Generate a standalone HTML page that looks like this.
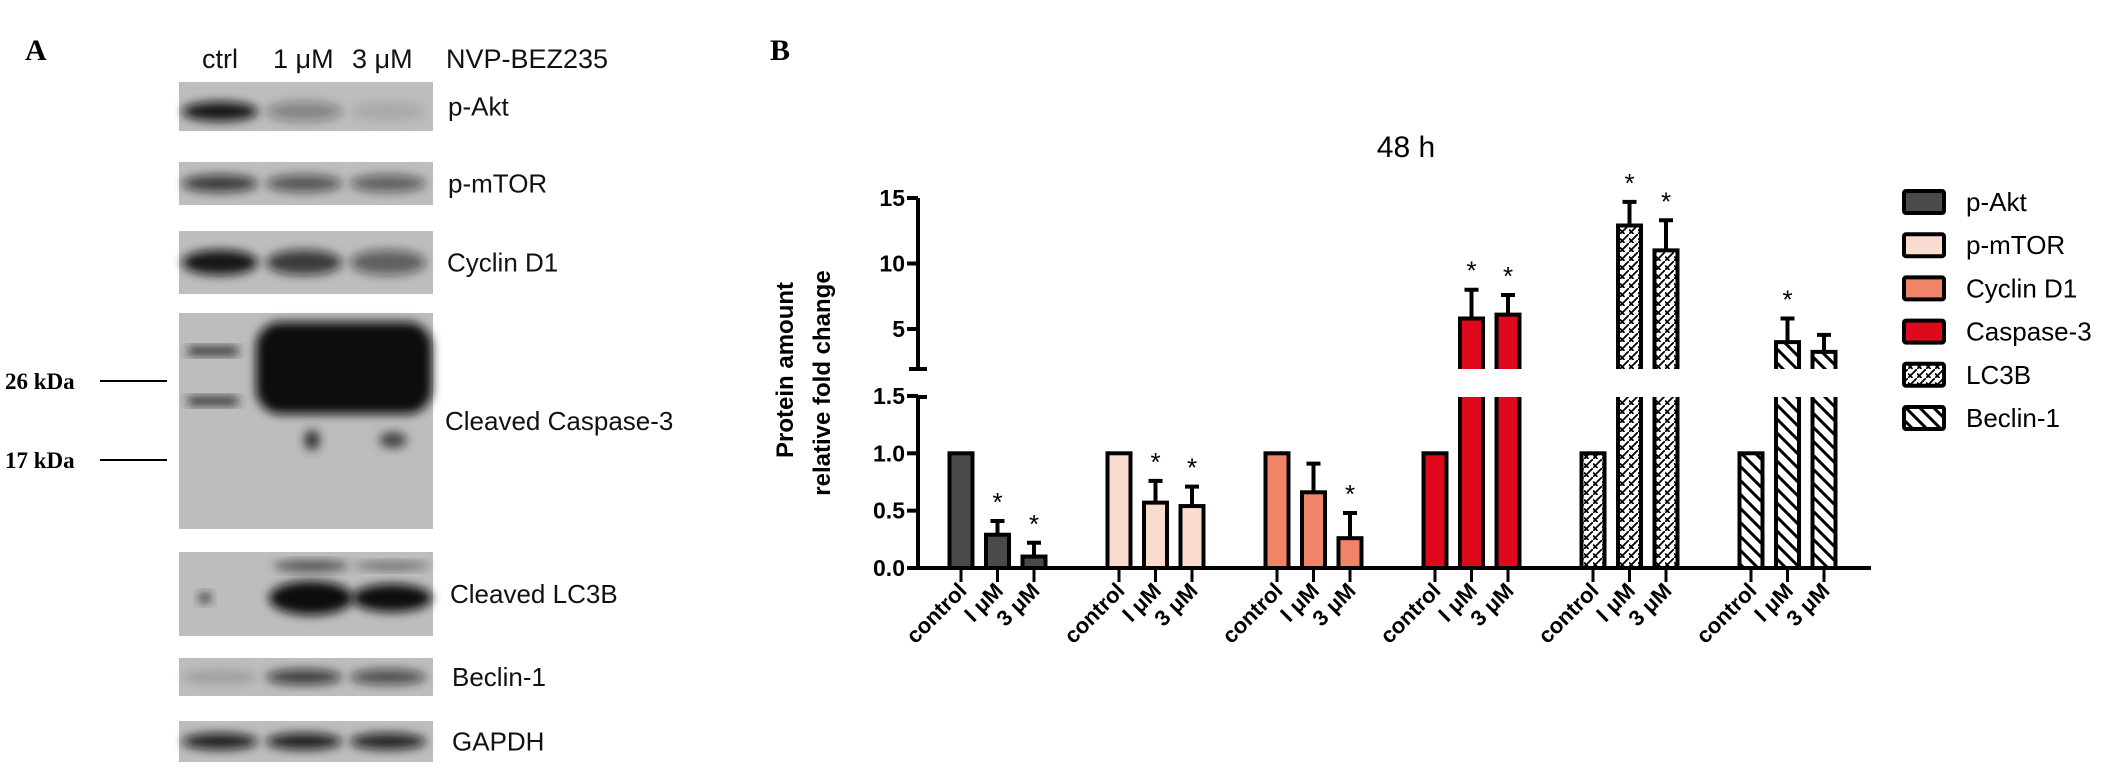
<!DOCTYPE html>
<html><head><meta charset="utf-8"><style>
body{margin:0;background:#fff;width:2126px;height:778px;overflow:hidden;font-family:"Liberation Sans",sans-serif}
svg{position:absolute;left:0;top:0}
</style></head><body>
<svg width="2126" height="778" viewBox="0 0 2126 778">
<defs>
<filter id="bl" x="-50%" y="-50%" width="200%" height="200%"><feGaussianBlur stdDeviation="5"/></filter>
<pattern id="pLC3" width="9" height="9" patternUnits="userSpaceOnUse"><rect width="9" height="9" fill="#fff"/><path d="M-2,11 L11,-2 M0,4.5 L4.5,9" stroke="#000" stroke-width="1.8"/></pattern>
<pattern id="pBec" width="14" height="14" patternUnits="userSpaceOnUse"><rect width="14" height="14" fill="#fff"/><path d="M-4,-4 L18,18 M-4,10 L4,18 M10,-4 L18,4" stroke="#000" stroke-width="3"/></pattern>
</defs>
<g id="panelA">
<text x="25" y="60" font-family="Liberation Serif" font-weight="bold" font-size="30">A</text>
<g font-size="27" fill="#111">
<text x="202" y="68">ctrl</text>
<text x="273" y="68">1 μM</text>
<text x="352" y="68">3 μM</text>
<text x="446" y="68">NVP-BEZ235</text>
</g>
<g id="blots"></g>
<g font-family="Liberation Serif" font-weight="bold" font-size="23">
<text x="5" y="389">26 kDa</text>
<text x="5" y="468">17 kDa</text>
</g>
<line x1="100" y1="381" x2="167" y2="381" stroke="#000" stroke-width="2"/>
<line x1="100" y1="460" x2="167" y2="460" stroke="#000" stroke-width="2"/>
</g>
<g id="panelB">
<text x="770" y="60" font-family="Liberation Serif" font-weight="bold" font-size="30">B</text>
<text x="1406" y="157" text-anchor="middle" font-size="30">48 h</text>
<g font-weight="bold" font-size="24">
<text transform="translate(793,370) rotate(-90)" text-anchor="middle">Protein amount</text>
<text transform="translate(830,383) rotate(-90)" text-anchor="middle">relative fold change</text>
</g>
<g id="axes"></g>
<g id="bars"></g>
<g id="legend"></g>
</g>
</svg>
<script>
const NS="http://www.w3.org/2000/svg";
function mk(tag,attrs,parent){const e=document.createElementNS(NS,tag);for(const k in attrs)e.setAttribute(k,attrs[k]);parent.appendChild(e);return e;}

// ---- chart data ----
const proteins=["p-Akt","p-mTOR","Cyclin D1","Caspase-3","LC3B","Beclin-1"];
const doses=["control","I μM","3 μM"];
const valAkt=[1,0.29,0.10];
const valMtor=[1,0.57,0.54];
const valCyclin=[1,0.66,0.26];
const valCasp=[1,5.8,6.1];
const valLC3B=[1,12.9,11.0];
const valBeclin=[1,4.0,3.25];
const errAkt=[0,0.12,0.12];
const errMtor=[0,0.19,0.17];
const errCyclin=[0,0.25,0.22];
const errCasp=[0,2.2,1.5];
const errLC3B=[0,1.8,2.3];
const errBeclin=[0,1.8,1.3];
const sigAkt=[0,1,1],sigMtor=[0,1,1],sigCyclin=[0,0,1],sigCasp=[0,1,1],sigLC3B=[0,1,1],sigBeclin=[0,1,0];
const lowTicks=["0.0","0.5","1.0","1.5"];
const highTicks=["5","10","15"];

const values=[valAkt,valMtor,valCyclin,valCasp,valLC3B,valBeclin];
const errs=[errAkt,errMtor,errCyclin,errCasp,errLC3B,errBeclin];
const sigs=[sigAkt,sigMtor,sigCyclin,sigCasp,sigLC3B,sigBeclin];
const fills=["#4a4a4c","#fadbd0","#ef8468","#e0081c","url(#pLC3)","url(#pBec)"];

const X0=918,X1=1871,Y0=568,BREAK_LO=397,BREAK_HI=369;
function xPos(g,d){return 961+g*158+d*36.5;}
function yPos(v){return v<=1.5? Y0-v*114.7 : 329-(v-5)*13.1;}

const axes=document.getElementById('axes');
let a;
a=mk('path',{d:`M${X0},${BREAK_HI} V198 M${X0},${BREAK_LO} V${Y0} H${X1} M${X0-9},${BREAK_HI} H${X0+9} M${X0},${BREAK_LO} H${X0+9}`,stroke:'#000','stroke-width':4,fill:'none'},axes);


lowTicks.concat(highTicks).forEach(t=>{const y=yPos(parseFloat(t));
 mk('line',{x1:X0-11,y1:y,x2:X0,y2:y,stroke:'#000','stroke-width':4},axes);
 const tx=mk('text',{x:X0-13,y:y+8,'text-anchor':'end','font-weight':'bold','font-size':23},axes);tx.textContent=t;
 
 });

const bars=document.getElementById('bars');
const W=27;
values.forEach((vals,g)=>{vals.forEach((v,d)=>{
 const cx=xPos(g,d),l=cx-W/2+2,r=cx+W/2-2;
 const grp=mk('g',{},bars);
 
 
 const e=errs[g][d];
 if(e>0){const yt=yPos(v+e);mk('path',{d:`M${cx},${yPos(v)} V${yt} M${cx-7},${yt} H${cx+7}`,stroke:'#000','stroke-width':4},grp);}
 if(v<=1.5){
  mk('rect',{x:l,y:yPos(v),width:r-l,height:Y0-yPos(v),fill:fills[g],stroke:'#000','stroke-width':4},grp);
 }else{
  mk('rect',{x:l,y:BREAK_LO,width:r-l,height:Y0-BREAK_LO,fill:fills[g]},grp);
  mk('path',{d:`M${l},${BREAK_LO} V${Y0} H${r} V${BREAK_LO}`,stroke:'#000','stroke-width':4,fill:'none'},grp);
  const yt=yPos(v);
  mk('rect',{x:l,y:yt,width:r-l,height:BREAK_HI-yt,fill:fills[g]},grp);
  mk('path',{d:`M${l},${BREAK_HI} V${yt} H${r} V${BREAK_HI}`,stroke:'#000','stroke-width':4,fill:'none'},grp);
 }
 if(sigs[g][d]){const s=mk('text',{x:cx,y:yPos(v+e)-10,'text-anchor':'middle','font-size':26},grp);s.textContent='*';
  
  }
 mk('line',{x1:cx,y1:Y0,x2:cx,y2:582,stroke:'#000','stroke-width':3},grp);
 const lb=mk('text',{transform:`translate(${cx+7},${592}) rotate(-45)`,'text-anchor':'end','font-weight':'bold','font-size':22},grp);
 lb.textContent=doses[d];
 
 
});});

const leg=document.getElementById('legend');
proteins.forEach((p,i)=>{const y=202+i*43.2;
 const g=mk('g',{},leg);
 
 
 mk('rect',{x:1904,y:y-11,width:40,height:22,fill:fills[i],stroke:'#000','stroke-width':4,rx:2},g);
 const t=mk('text',{x:1966,y:y+9,'font-size':26},g);t.textContent=p;});

// ---- western blot panel ----
const blotRows=[["p-Akt",82,131,[0.95,0.35,0.1]],["p-mTOR",162,205,[0.75,0.6,0.55]],["Cyclin D1",231,294,[0.95,0.75,0.55]],
["Cleaved Caspase-3",313,529,[0.8,1,1]],["Cleaved LC3B",552,636,[0.35,1,0.95]],["Beclin-1",658,696,[0.15,0.75,0.65]],["GAPDH",721,762,[0.9,0.9,0.88]]];
const labelX=[448,448,447,445,450,452,452];
const blots=document.getElementById('blots');
const lanes=[220,304,388];
blotRows.forEach((r,i)=>{const [name,y1,y2,ints]=r;
 const g=mk('g',{},blots);
 
 
 mk('rect',{x:179,y:y1,width:254,height:y2-y1,fill:'#bdbdbd'},g);
 const cy=(y1+y2)/2;
 if(i===3){
  mk('rect',{x:256,y:322,width:176,height:92,rx:25,fill:'#111',filter:'url(#bl)'},g);
  mk('rect',{x:188,y:347,width:50,height:8,fill:'#222',filter:'url(#bl)'},g);
  mk('rect',{x:188,y:397,width:50,height:8,fill:'#222',filter:'url(#bl)'},g);
  mk('ellipse',{cx:312,cy:440,rx:8,ry:10,fill:'#333',filter:'url(#bl)'},g);
  mk('ellipse',{cx:393,cy:440,rx:14,ry:8,fill:'#444',filter:'url(#bl)'},g);
 }else if(i===4){
  mk('ellipse',{cx:311,cy:598,rx:42,ry:17,fill:'#111',filter:'url(#bl)'},g);
  mk('ellipse',{cx:392,cy:598,rx:40,ry:14,fill:'#111',filter:'url(#bl)'},g);
  mk('ellipse',{cx:311,cy:566,rx:38,ry:5,fill:'#444',filter:'url(#bl)'},g);
  mk('ellipse',{cx:392,cy:566,rx:38,ry:4,fill:'#666',filter:'url(#bl)'},g);
  mk('ellipse',{cx:205,cy:598,rx:6,ry:5,fill:'#222',filter:'url(#bl)'},g);
 }else{
  lanes.forEach((lx,k)=>{mk('ellipse',{cx:lx,cy:cy+(i===0?5:0),rx:38,ry:(y2-y1)*0.2,fill:'#111','fill-opacity':ints[k],filter:'url(#bl)'},g);});
 }
 const t=mk('text',{x:labelX[i],y:cy+9,'font-size':26,fill:'#111'},g);t.textContent=name;
});
</script>
</body></html>
